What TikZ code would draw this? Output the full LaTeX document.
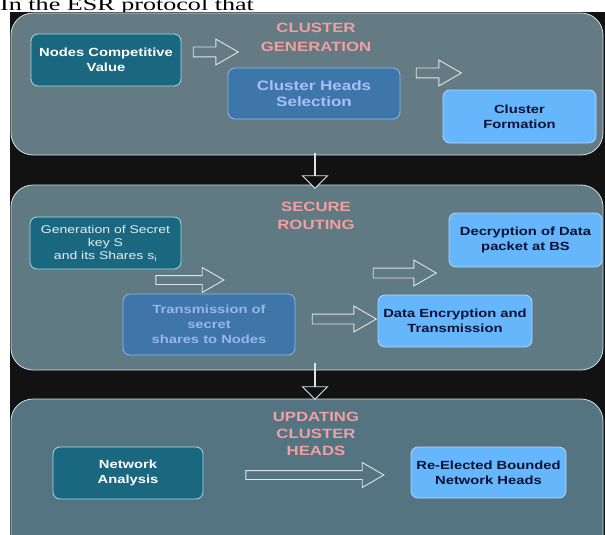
\documentclass[tikz,border=0pt]{standalone}
\usepackage{fontspec}
\setmainfont{Liberation Sans}[FakeStretch=1.25]
\newfontfamily\introfont{Liberation Serif}[FakeStretch=1.45]
\usetikzlibrary{shapes.arrows}
\definecolor{esrback}{HTML}{121212}
\definecolor{panelA}{HTML}{647B84}
\definecolor{panelB}{HTML}{5F7A82}
\definecolor{panelC}{HTML}{557482}
\definecolor{panelline}{HTML}{D0DFE2}
\definecolor{esrteal}{HTML}{1A6780}
\definecolor{tealline}{HTML}{A8DCEA}
\definecolor{esrblue}{HTML}{3E76AA}
\definecolor{blueline}{HTML}{90B8E8}
\definecolor{esrlight}{HTML}{66B6FC}
\definecolor{lightline}{HTML}{B0D8FF}
\definecolor{lavender}{HTML}{A9C0F4}
\definecolor{navytext}{HTML}{0B1133}
\definecolor{esrpink}{HTML}{F0A0A0}
\definecolor{arrowline}{HTML}{DFE4E6}
\tikzset{
  panel/.style={draw=panelline, line width=0.8pt, rounded corners=22pt},
  box/.style={draw, line width=0.8pt, rounded corners=7pt, align=center, inner sep=2pt, font=\bfseries\fontsize{11.8}{15}\selectfont},
  tealbox/.style={box, fill=esrteal, draw=tealline, text=white},
  bluebox/.style={box, fill=esrblue, draw=blueline, text=lavender},
  lightbox/.style={box, fill=esrlight, draw=lightline, text=navytext},
  title/.style={text=esrpink, align=center, font=\bfseries\fontsize{13.4}{18.5}\selectfont},
  harrow/.style={single arrow, draw=arrowline, line width=0.9pt, inner xsep=0pt, inner ysep=4.5pt, single arrow head extend=8pt, single arrow tip angle=60},
  varrow/.style={harrow, fill=esrback, shape border rotate=270, single arrow head extend=12pt, single arrow tip angle=90}
}

\begin{document}
\begin{tikzpicture}[x=1pt, y=-1pt]
  \useasboundingbox (0,0) rectangle (605,535);
  \fill[white] (0,0) rectangle (605,535);
  \node[anchor=base west, inner sep=0pt, font=\introfont\fontsize{18}{18}\selectfont] (intro) at (0,10.5) {In the ESR protocol that};
  \fill[esrback] (10,12) rectangle (605,535);

  % cluster generation
  \draw[panel, fill=panelA] (11,13) rectangle (603,155);
  \node[title] (tgen) at (316,37.5) {CLUSTER\\GENERATION};
  \node[tealbox, minimum width=150pt, minimum height=52pt] (ncv) at (106,60) {Nodes Competitive\\Value};
  \node[bluebox, minimum width=172pt, minimum height=51pt, font=\bfseries\fontsize{13.6}{15.5}\selectfont] (chs) at (314,93.5) {Cluster Heads\\Selection};
  \node[lightbox, minimum width=153pt, minimum height=53pt] (cf) at (519.5,116.5) {Cluster\\Formation};
  \node[harrow, minimum height=45pt] (a1) at (211.5,52) {};
  \node[harrow, minimum height=45pt] (a2) at (434.5,73) {};

  % secure routing
  \draw[panel, fill=panelB] (11,185) rectangle (603,370);
  \node[title] (troute) at (316,216) {SECURE\\ROUTING};
  \node[tealbox, minimum width=151pt, minimum height=52pt, text=white!88!esrteal, font=\fontsize{11.2}{13}\selectfont] (gen) at (105.5,243) {Generation of Secret\\key S\\and its Shares s\textsubscript{i}};
  \node[bluebox, minimum width=172pt, minimum height=61pt, text=lavender!85!esrblue] (tsn) at (209,324.5) {Transmission of\\secret\\shares to Nodes};
  \node[lightbox, minimum width=154pt, minimum height=52pt] (det) at (455,321) {Data Encryption and\\Transmission};
  \node[lightbox, minimum width=153pt, minimum height=54pt] (dec) at (525.5,240) {Decryption of Data\\packet at BS};
  \node[harrow, minimum height=68pt, inner ysep=4pt] (a3) at (186,280) {};
  \node[harrow, minimum height=64pt] (a4) at (340,319) {};
  \node[harrow, minimum height=63pt] (a5) at (400.5,273) {};

  % updating cluster heads
  \draw[panel, fill=panelC] (11,399) rectangle (603,570);
  \node[title, font=\bfseries\fontsize{13.4}{17}\selectfont] (tupd) at (316,434) {UPDATING\\CLUSTER\\HEADS};
  \node[tealbox, minimum width=150pt, minimum height=52pt] (na) at (128,473) {Network\\Analysis};
  \node[lightbox, minimum width=155pt, minimum height=51pt] (reb) at (488.5,472.5) {Re-Elected Bounded\\Network Heads};
  \node[harrow, minimum height=138pt, inner ysep=4pt] (a6) at (311,475) {};

  % links between stages
  \node[varrow, minimum height=35pt] (d1) at (315,170.5) {};
  \node[varrow, minimum height=36pt] (d2) at (315,381) {};
\end{tikzpicture}
\end{document}
